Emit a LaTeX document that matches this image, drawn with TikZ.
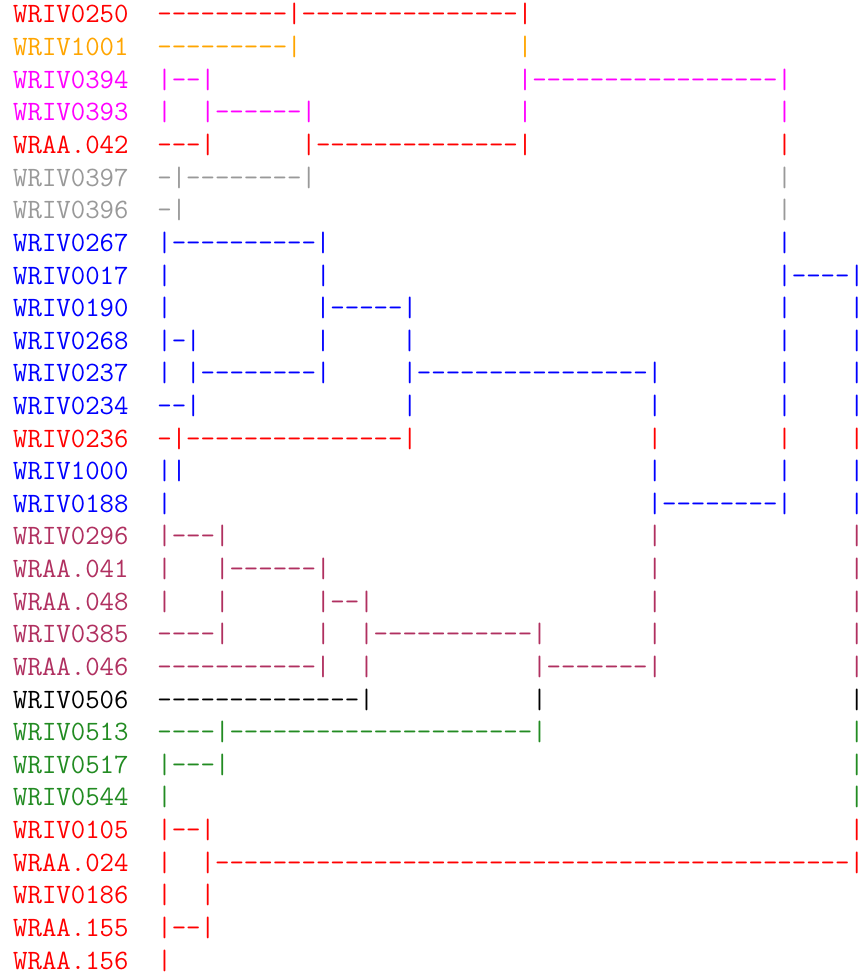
\documentclass[tikz,border=0pt]{standalone}
\usepackage{fontspec}
\usepackage{xcolor}
\definecolor{cRed}{HTML}{FF0000}
\definecolor{cOrange}{HTML}{FFA500}
\definecolor{cMagenta}{HTML}{FF00FF}
\definecolor{cGrey}{HTML}{999999}
\definecolor{cBlue}{HTML}{0000FF}
\definecolor{cMaroon}{HTML}{B03060}
\definecolor{cBlack}{HTML}{000000}
\definecolor{cGreen}{HTML}{228B22}
% n blank columns of the mono font
\newcommand\gap[1]{\hspace*{#1\fontcharwd\font`\-}}
% bar in the last column, its blank right half kept inside the page
\newcommand\lastbar{|\kern-0.45\fontcharwd\font`\-}
\tikzset{row/.style={anchor=base west, inner sep=0pt, font=\ttfamily\fontsize{28}{28}\selectfont}}

\begin{document}
\begin{tikzpicture}[x=1pt,y=1pt]
			%%%%% START %%%%%
			\useasboundingbox (0,0) rectangle (859,-974);
			
			\node[row, color=cRed]     (wriv0250) at (13, -23.0)  {WRIV0250\gap{2}---------|---------------|};
			\node[row, color=cOrange]  (wriv1001) at (13, -55.6)  {WRIV1001\gap{2}---------|\gap{15}|};
			\node[row, color=cMagenta] (wriv0394) at (13, -88.2)  {WRIV0394\gap{2}|--|\gap{21}|-----------------|};
			\node[row, color=cMagenta] (wriv0393) at (13, -120.9) {WRIV0393\gap{2}|\gap{2}|------|\gap{14}|\gap{17}|};
			\node[row, color=cRed]     (wraa042)  at (13, -153.5) {WRAA.042\gap{2}---|\gap{6}|--------------|\gap{17}|};
			\node[row, color=cGrey]    (wriv0397) at (13, -186.1) {WRIV0397\gap{2}-|--------|\gap{32}|};
			\node[row, color=cGrey]    (wriv0396) at (13, -218.7) {WRIV0396\gap{2}-|\gap{41}|};
			\node[row, color=cBlue]    (wriv0267) at (13, -251.3) {WRIV0267\gap{2}|----------|\gap{31}|};
			\node[row, color=cBlue]    (wriv0017) at (13, -284.0) {WRIV0017\gap{2}|\gap{10}|\gap{31}|----\lastbar};
			\node[row, color=cBlue]    (wriv0190) at (13, -316.6) {WRIV0190\gap{2}|\gap{10}|-----|\gap{25}|\gap{4}\lastbar};
			
			\node[row, color=cBlue]    (wriv0268) at (13, -349.2) {WRIV0268\gap{2}|-|\gap{8}|\gap{5}|\gap{25}|\gap{4}\lastbar};
			\node[row, color=cBlue]    (wriv0237) at (13, -381.8) {WRIV0237\gap{2}|\gap{1}|--------|\gap{5}|----------------|\gap{8}|\gap{4}\lastbar};
			\node[row, color=cBlue]    (wriv0234) at (13, -414.4) {WRIV0234\gap{2}--|\gap{14}|\gap{16}|\gap{8}|\gap{4}\lastbar};
			\node[row, color=cRed]     (wriv0236) at (13, -447.1) {WRIV0236\gap{2}-|---------------|\gap{16}|\gap{8}|\gap{4}\lastbar};
			\node[row, color=cBlue]    (wriv1000) at (13, -479.7) {WRIV1000\gap{2}||\gap{32}|\gap{8}|\gap{4}\lastbar};
			\node[row, color=cBlue]    (wriv0188) at (13, -512.3) {WRIV0188\gap{2}|\gap{33}|--------|\gap{4}\lastbar};
			\node[row, color=cMaroon]  (wriv0296) at (13, -544.9) {WRIV0296\gap{2}|---|\gap{29}|\gap{13}\lastbar};
			\node[row, color=cMaroon]  (wraa041)  at (13, -577.5) {WRAA.041\gap{2}|\gap{3}|------|\gap{22}|\gap{13}\lastbar};
			\node[row, color=cMaroon]  (wraa048)  at (13, -610.2) {WRAA.048\gap{2}|\gap{3}|\gap{6}|--|\gap{19}|\gap{13}\lastbar};
			\node[row, color=cMaroon]  (wriv0385) at (13, -642.8) {WRIV0385\gap{2}----|\gap{6}|\gap{2}|-----------|\gap{7}|\gap{13}\lastbar};
			
			\node[row, color=cMaroon]  (wraa046)  at (13, -675.4) {WRAA.046\gap{2}-----------|\gap{2}|\gap{11}|-------|\gap{13}\lastbar};
			\node[row, color=cBlack]   (wriv0506) at (13, -708.0) {WRIV0506\gap{2}--------------|\gap{11}|\gap{21}\lastbar};
			\node[row, color=cGreen]   (wriv0513) at (13, -740.6) {WRIV0513\gap{2}----|---------------------|\gap{21}\lastbar};
			\node[row, color=cGreen]   (wriv0517) at (13, -773.3) {WRIV0517\gap{2}|---|\gap{43}\lastbar};
			\node[row, color=cGreen]   (wriv0544) at (13, -805.9) {WRIV0544\gap{2}|\gap{47}\lastbar};
			\node[row, color=cRed]     (wriv0105) at (13, -838.5) {WRIV0105\gap{2}|--|\gap{44}\lastbar};
			\node[row, color=cRed]     (wraa024)  at (13, -871.1) {WRAA.024\gap{2}|\gap{2}|--------------------------------------------\lastbar};
			\node[row, color=cRed]     (wriv0186) at (13, -903.7) {WRIV0186\gap{2}|\gap{2}|};
			\node[row, color=cRed]     (wraa155)  at (13, -936.4) {WRAA.155\gap{2}|--|};
			\node[row, color=cRed]     (wraa156)  at (13, -969.0) {WRAA.156\gap{2}|};
			
			%%%%% END %%%%%
\end{tikzpicture}
\end{document}
